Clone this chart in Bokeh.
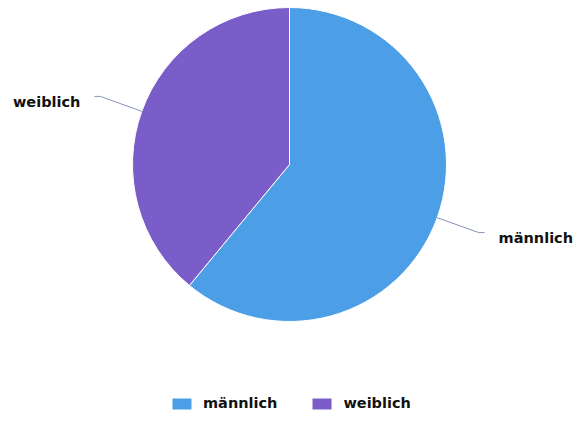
import math
from bokeh.plotting import figure
from bokeh.models import Range1d, Legend, LegendItem
from bokeh.core.properties import value
from bokeh.embed import file_html
from bokeh.resources import INLINE

categories = ["männlich", "weiblich"]
shares = [61, 39]
colors = ["#4c9fe6", "#7a5dc8"]

W, H = 574, 411
CX, CY, R = 289, H - 164, 157  # pie centre/radius in plot pixels (y up)

p = figure(width=W, height=H, output_backend="svg", toolbar_location=None,
           x_range=Range1d(0, W), y_range=Range1d(0, H), min_border=0)
p.axis.visible = False
p.grid.visible = False
p.outline_line_color = None
p.background_fill_color = "white"
p.border_fill_color = "white"

total = float(sum(shares))
start = math.pi / 2
items = []
for cat, val, col in zip(categories, shares, colors):
    sweep = 2 * math.pi * val / total
    end = start - sweep
    r = p.wedge(x=CX, y=CY, radius=R, start_angle=start, end_angle=end,
                direction="clock", fill_color=col, line_color="white", line_width=1)
    items.append(LegendItem(label=cat, renderers=[r]))
    mid = (start + end) / 2
    dx, dy = math.cos(mid), math.sin(mid)
    ex, ey = CX + R * dx, CY + R * dy
    ox, oy = CX + (R + 44) * dx, CY + (R + 44) * dy
    side = 1 if dx >= 0 else -1
    hx = ox + side * 6
    p.line([ex, ox, hx], [ey, oy, oy], line_color="#8595b5", line_width=1)
    p.text(x=[hx + side * 14], y=[oy - 5.5], text=[cat],
           text_align="left" if side > 0 else "right", text_baseline="middle",
           text_font=value("DejaVu Sans"), text_font_style="bold",
           text_font_size="14.5px", text_color="#111111")
    start = end

legend = Legend(items=items, orientation="horizontal", location=(169, 0),
                glyph_width=25, glyph_height=15, label_standoff=9, spacing=32,
                padding=0, margin=0, border_line_color=None, background_fill_alpha=0,
                label_text_font="DejaVu Sans", label_text_font_style="bold",
                label_text_font_size="14.5px", label_text_color="#111111")
p.add_layout(legend)

open("out.html", "w").write(file_html(p, INLINE))
